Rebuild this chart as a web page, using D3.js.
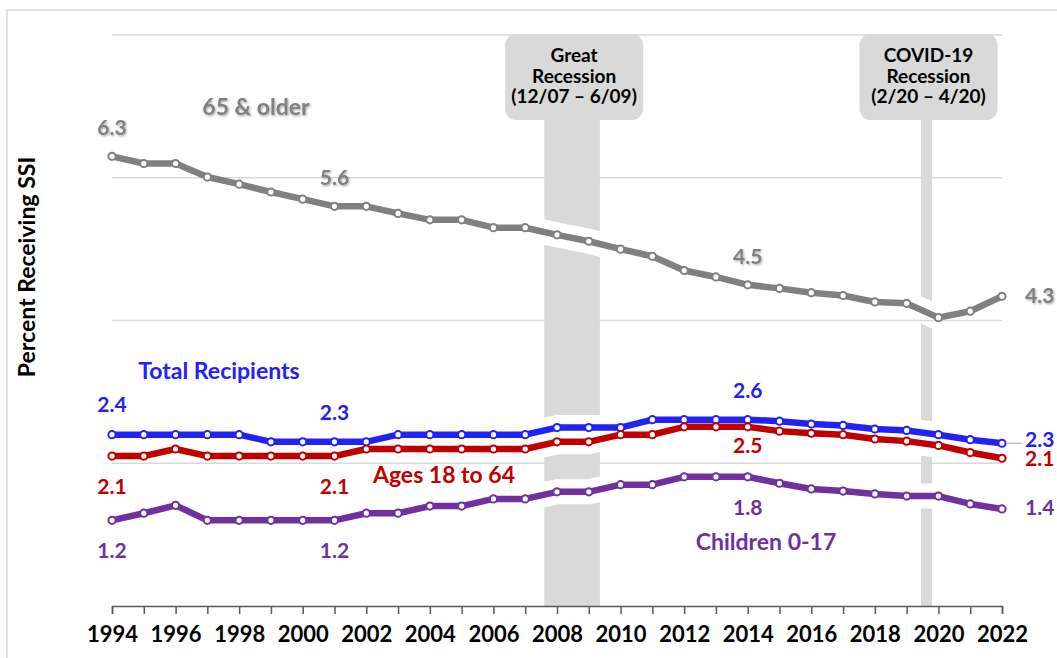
<!DOCTYPE html>
<html><head><meta charset="utf-8">
<script src="https://cdn.jsdelivr.net/npm/d3@7"></script>
<style>
html,body{margin:0;padding:0;background:#fff;}
svg{display:block;font-family:Lato,"Open Sans",sans-serif;font-weight:bold;}
</style></head>
<body>
<svg id="chart" width="1057" height="658"></svg>
<script>
const years = [1994,1995,1996,1997,1998,1999,2000,2001,2002,2003,2004,2005,2006,2007,2008,2009,2010,2011,2012,2013,2014,2015,2016,2017,2018,2019,2020,2021,2022];
const older    = [6.30,6.20,6.20,6.01,5.91,5.80,5.70,5.60,5.60,5.50,5.41,5.41,5.30,5.30,5.20,5.11,5.00,4.90,4.70,4.61,4.50,4.45,4.39,4.35,4.26,4.24,4.04,4.13,4.34];
const total    = [2.40,2.40,2.40,2.40,2.40,2.30,2.30,2.30,2.30,2.40,2.40,2.40,2.40,2.40,2.50,2.50,2.50,2.61,2.61,2.61,2.61,2.59,2.55,2.53,2.48,2.46,2.40,2.33,2.28];
const adults   = [2.10,2.10,2.20,2.10,2.10,2.10,2.10,2.10,2.20,2.20,2.20,2.20,2.20,2.20,2.30,2.30,2.40,2.40,2.51,2.51,2.51,2.45,2.42,2.40,2.34,2.31,2.25,2.15,2.07];
const children = [1.20,1.30,1.41,1.20,1.20,1.20,1.20,1.20,1.30,1.30,1.40,1.40,1.50,1.50,1.60,1.60,1.70,1.70,1.81,1.81,1.81,1.72,1.64,1.61,1.57,1.54,1.54,1.43,1.36];
const seriesNames = ["65 & older","Total Recipients","Ages 18 to 64","Children 0-17"];
const yTicks = [2,4,6,8];
const xTickLabels = [1994,1996,1998,2000,2002,2004,2006,2008,2010,2012,2014,2016,2018,2020,2022];
const recessionStart = [2007.6, 2019.45];
const recessionEnd   = [2009.35, 2019.8];
const recessionLabels = [["Great","Recession","(12/07 \u2013 6/09)"],["COVID-19","Recession","(2/20 \u2013 4/20)"]];
const labelYears = [1994, 2001, 2014, 2022];

const colors = ["#808080","#2222f5","#c00000","#7030a0"];
const seriesData = [older,total,adults,children];

const svg = d3.select("#chart");
const x = d3.scaleLinear().domain([1994,2022]).range([112,1002]);
const y = d3.scaleLinear().domain([0,8]).range([606,35]);

// outer border
svg.append("rect").attr("x",7).attr("y",10).attr("width",1070).attr("height",700)
  .attr("fill","none").attr("stroke","#d9d9d9").attr("stroke-width",1.5);

const defs = svg.append("defs");
const sh = defs.append("filter").attr("id","shadow").attr("x","-20%").attr("y","-30%").attr("width","140%").attr("height","160%");
sh.append("feDropShadow").attr("dx",1).attr("dy",1.2).attr("stdDeviation",1.1).attr("flood-color","#000").attr("flood-opacity",0.35);

const line = d3.line().x((d,i)=>x(years[i])).y(d=>y(d));

// mask for recession bands (white gaps around lines)
const mask = defs.append("mask").attr("id","bandmask").attr("maskUnits","userSpaceOnUse")
  .attr("x",0).attr("y",0).attr("width",1057).attr("height",658);
mask.append("rect").attr("width",1057).attr("height",658).attr("fill","#fff");
seriesData.forEach(s=>{
  mask.append("path").attr("d",line(s)).attr("fill","none").attr("stroke","#000").attr("stroke-width",25);
});

// gridlines
svg.append("g").selectAll("line").data(yTicks).join("line")
  .attr("x1",x(1994)).attr("x2",x(2022)).attr("y1",d=>y(d)).attr("y2",d=>y(d))
  .attr("stroke","#d9d9d9").attr("stroke-width",1.5);

// recession bands
const rg = svg.append("g");
recessionStart.forEach((s,i)=>{
  rg.append("rect").attr("x",x(s)).attr("width",x(recessionEnd[i])-x(s))
    .attr("y",y(8)+60).attr("height",y(0)-y(8)-60)
    .attr("fill","#d9d9d9").attr("mask","url(#bandmask)");
});

// x axis
const xAxis = d3.axisBottom(x).tickValues(years).tickSize(8).tickFormat(d=>xTickLabels.includes(d)?d:"");
const xg = svg.append("g").attr("transform",`translate(0,${y(0)})`).call(xAxis);
xg.select(".domain").attr("stroke","#595959").attr("stroke-width",1.5);
xg.selectAll(".tick line").attr("stroke","#595959").attr("stroke-width",1.5);
xg.selectAll(".tick text").attr("fill","#000").attr("font-size",22).attr("font-family","Lato").attr("font-weight","bold").attr("dy","1.12em");

// recession label boxes
recessionStart.forEach((s,i)=>{
  const cx = (x(s)+x(recessionEnd[i]))/2 + 2;
  const g = svg.append("g");
  g.append("rect").attr("x",cx-69).attr("y",34).attr("width",138).attr("height",86).attr("rx",11)
    .attr("fill","#d9d9d9");
  g.append("text").attr("x",cx).attr("y",62).attr("text-anchor","middle").attr("font-size",19).attr("fill","#000")
    .selectAll("tspan").data(recessionLabels[i]).join("tspan")
    .attr("x",cx).attr("dy",(d,j)=>j===0?0:20.5).text(d=>d);
});

// series lines and markers
seriesData.forEach((s,k)=>{
  svg.append("path").attr("d",line(s)).attr("fill","none").attr("stroke",colors[k])
    .attr("stroke-width",6.5).attr("stroke-linejoin","round");
  svg.append("g").selectAll("circle").data(s).join("circle")
    .attr("cx",(d,i)=>x(years[i])).attr("cy",d=>y(d)).attr("r",3.6)
    .attr("fill","#fff").attr("stroke",colors[k]).attr("stroke-width",2);
});

// value labels
const fmt = d3.format(".1f");
const val = (s,yr)=>seriesData[s][years.indexOf(yr)];
// vertical offsets [series][label] relative to the point
const labelDy = [[-21,-21,-21,7],[-23,-22,-22,4],[38,38,26,8],[38,38,38,6]];
seriesData.forEach((s,k)=>{
  labelYears.forEach((yr,j)=>{
    const v = val(k,yr);
    const t = svg.append("text").attr("font-size",21).attr("fill",colors[k]).text(fmt(v));
    if (j<3) {
      t.attr("x",x(yr)).attr("text-anchor","middle").attr("y",y(v)+labelDy[k][j]);
    } else {
      t.attr("x",x(yr)+23).attr("text-anchor","start").attr("y",y(v)+labelDy[k][j]);
    }
    if (k===0) t.attr("filter","url(#shadow)");
  });
});
// leader line for total 2022
svg.append("line").attr("x1",x(2022)+5).attr("x2",x(2022)+20)
  .attr("y1",y(val(1,2022))).attr("y2",y(val(1,2022))).attr("stroke","#a6a6a6").attr("stroke-width",1);

// series name labels
const nameX = [256, 219, 444, 766];
const nameY = [115, 379, 483, 550];
seriesNames.forEach((n,k)=>{
  const t = svg.append("text").attr("x",nameX[k]).attr("y",nameY[k]).attr("text-anchor","middle")
    .attr("font-size",23).attr("fill",colors[k]).text(n);
  if (k===0) t.attr("filter","url(#shadow)");
});

// y axis title
svg.append("text").attr("transform","translate(35,267) rotate(-90)").attr("text-anchor","middle")
  .attr("font-size",23).attr("fill","#000").text("Percent Receiving SSI");
</script>
</body></html>
